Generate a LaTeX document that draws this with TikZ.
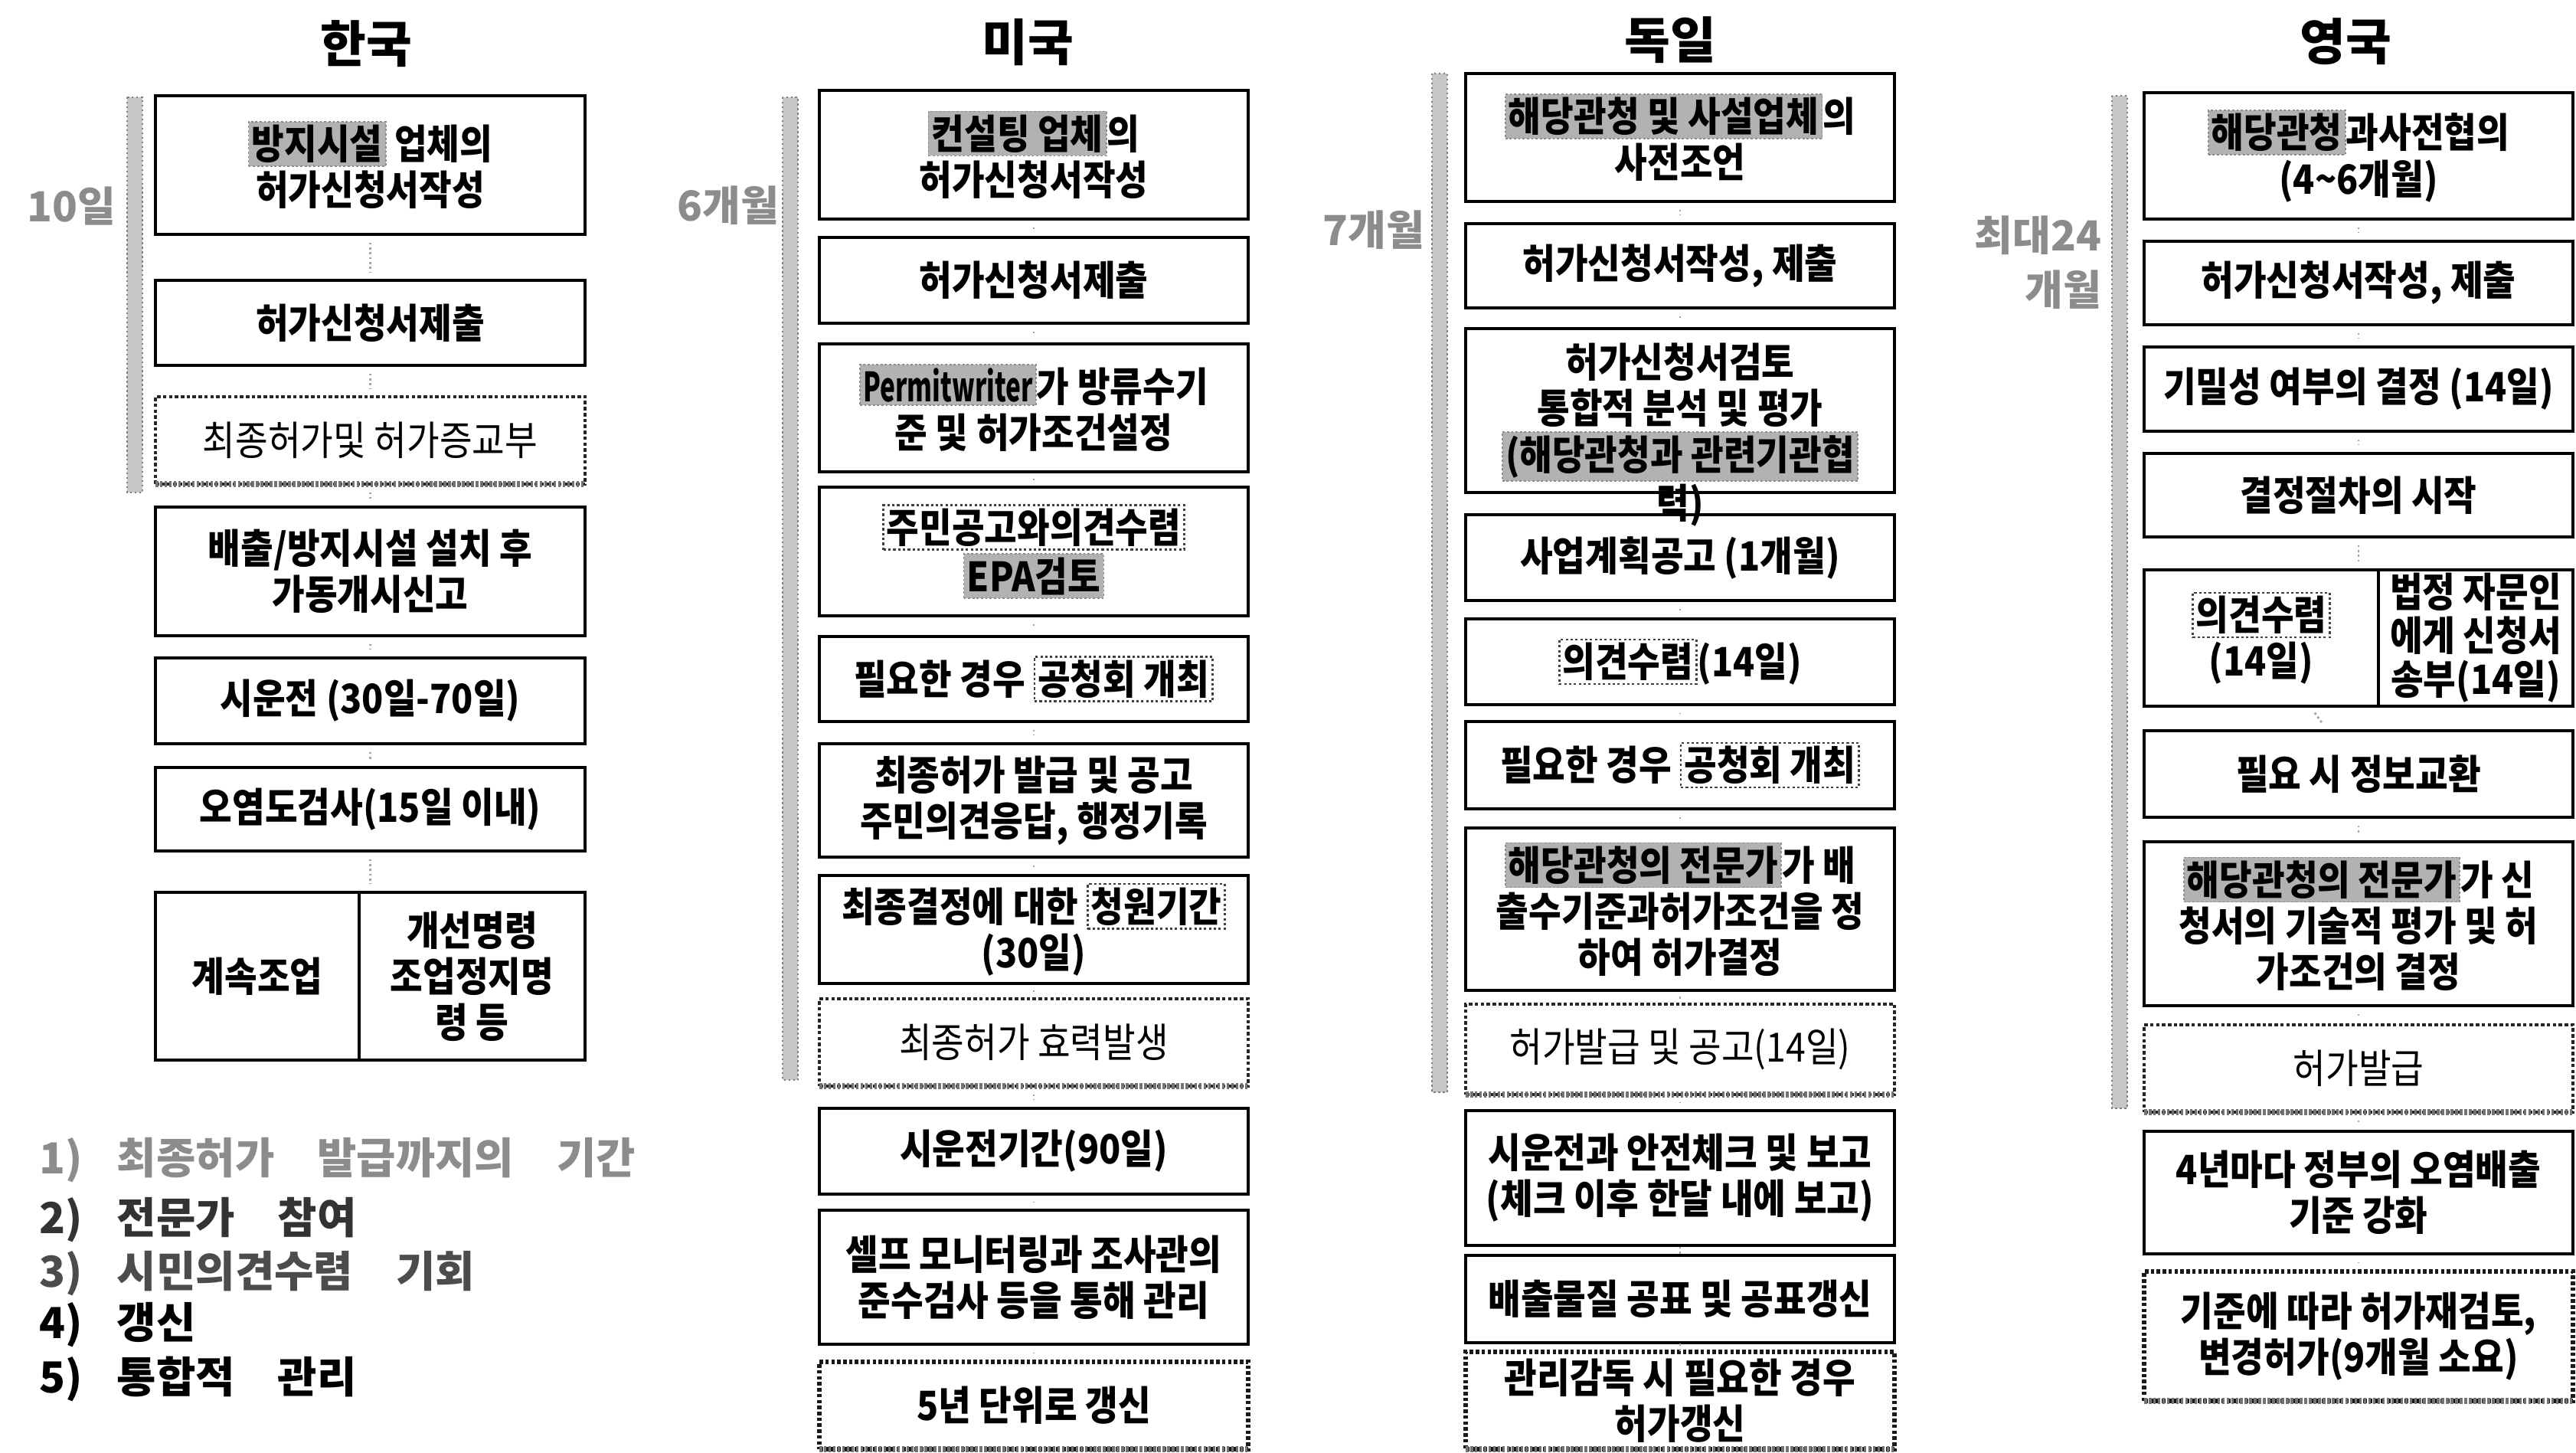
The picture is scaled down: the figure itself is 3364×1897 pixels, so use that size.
\documentclass[tikz,border=0pt]{standalone}
\usepackage{fontspec}
\usepackage{graphicx}
\setmainfont{Noto Sans CJK KR}
\newfontfamily\krnarrow{Noto Sans CJK KR}[FakeStretch=0.88]
\newcommand\bfnt{\krnarrow\bfseries\fontsize{15}{17.1}\selectfont}
\newcommand\bfnttight{\krnarrow\bfseries\fontsize{15}{16.2}\selectfont}
\newcommand\rfnt{\krnarrow\fontsize{15}{17.1}\selectfont}
\newcommand\tfnt{\bfseries\fontsize{18.5}{22}\selectfont}
\newcommand\pfnt{\bfseries\fontsize{15.4}{20.2}\selectfont}
\newcommand\lfnt{\bfseries\fontsize{15.9}{19}\selectfont}
\newcommand\hlexp[1]{\tikz[baseline=(hx.base)]\node[rectangle, inner sep=1.2pt, outer sep=0pt, minimum width=0pt, minimum height=0pt, fill=black!30, draw=black!45, line width=0.5pt, dash pattern=on 0.8pt off 0.8pt, text=black] (hx) {#1};}
\newcommand\hlcit[1]{\tikz[baseline=(hc.base)]\node[rectangle, inner sep=1.2pt, outer sep=0pt, minimum width=0pt, minimum height=0pt, fill=none, draw=black!75, line width=0.7pt, dash pattern=on 0.9pt off 0.9pt, text=black] (hc) {#1};}
\newcommand\bx[7]{\node[#6, minimum width={(#4-#2)*0.1mm}, minimum height={(#5-#3)*0.1mm}] (#1) at ({(#2+#4)/2},{(#3+#5)/2}) {#7};}
\tikzset{
  box/.style={draw=black, line width=1.3pt, rectangle, inner sep=0pt, outer sep=0pt, align=center, font=\bfnt, text=black},
  tightbox/.style={box, font=\bfnttight},
  finalbox/.style={box, draw=black!85, dash pattern=on 1.3pt off 0.9pt, font=\rfnt},
  renewbox/.style={box, draw=black!90, dash pattern=on 1.3pt off 0.9pt, line width=1.6pt},
  grain/.style={draw=black!55, line width=2.4pt, dash pattern=on 1pt off 0.7pt},
  txt/.style={inner sep=0pt, align=center, font=\bfnt, text=black},
  ttl/.style={font=\tfnt, text=black, inner sep=0pt},
  prd/.style={font=\pfnt, text=black!45, inner sep=0pt, align=right, anchor=east},
  lgd/.style={font=\lfnt, inner sep=0pt, anchor=west},
  brk/.style={fill=black!22, draw=black!50, line width=0.7pt, densely dotted},
  conn/.style={draw=black!35, line width=0.8pt, densely dotted, shorten >=3pt, shorten <=3pt},
}
\begin{document}
\begin{tikzpicture}[x=0.1mm, y=-0.1mm]
\fill[white] (0,0) rectangle (3364,1897);
\useasboundingbox (0,0) rectangle (3364,1897);

% titles
\node[ttl] (tKR) at (478,57) {한국};
\node[ttl] (tUS) at (1342,55) {미국};
\node[ttl] (tDE) at (2181,52) {독일};
\node[ttl] (tUK) at (3063,54) {영국};

% period brackets
\draw[brk] (166,127) rectangle (186,643);
\draw[brk] (1022,127) rectangle (1042,1410);
\draw[brk] (1870,96) rectangle (1890,1426);
\draw[brk] (2758,125) rectangle (2778,1447);
\node[prd] (pKR) at (152,269) {10일};
\node[prd] (pUS) at (1018,268) {6개월};
\node[prd] (pDE) at (1861,300) {7개월};
\node[prd] (pUK) at (2745,343) {최대24\\개월};

% Korea
\bx{k1}{203}{125}{764}{306}{box}{\hlexp{방지시설} 업체의\\허가신청서작성}
\bx{k2}{203}{366}{764}{477}{box}{허가신청서제출}
\bx{k3}{203}{518}{764}{632}{finalbox}{최종허가및 허가증교부}
\bx{k4}{203}{662}{764}{830}{box}{배출/방지시설 설치 후\\가동개시신고}
\bx{k5}{203}{859}{764}{971}{box}{시운전 (30일-70일)}
\bx{k6}{203}{1002}{764}{1111}{box}{오염도검사(15일 이내)}
\bx{k7a}{203}{1165}{469}{1384}{box}{계속조업}
\bx{k7b}{469}{1165}{764}{1384}{box}{개선명령\\조업정지명\\령 등}

% USA
\bx{u1}{1070}{118}{1630}{286}{box}{\hlexp{컨설팅 업체}의\\허가신청서작성}
\bx{u2}{1070}{310}{1630}{422}{box}{허가신청서제출}
\bx{u3}{1070}{449}{1630}{616}{box}{\hlexp{\scalebox{0.72}[1]{Permitwriter}}가 방류수기\\준 및 허가조건설정}
\bx{u4}{1070}{636}{1630}{804}{box}{\hlcit{주민공고와의견수렴}\\\hlexp{EPA검토}}
\bx{u5}{1070}{831}{1630}{942}{box}{필요한 경우 \hlcit{공청회 개최}}
\bx{u6}{1070}{971}{1630}{1119}{box}{최종허가 발급 및 공고\\주민의견응답, 행정기록}
\bx{u7}{1070}{1143}{1630}{1284}{box}{최종결정에 대한 \hlcit{청원기간}\\(30일)}
\bx{u8}{1070}{1304}{1630}{1418}{finalbox}{최종허가 효력발생}
\bx{u9}{1070}{1447}{1630}{1559}{box}{시운전기간(90일)}
\bx{u10}{1070}{1580}{1630}{1755}{box}{셀프 모니터링과 조사관의\\준수검사 등을 통해 관리}
\bx{u11}{1070}{1778}{1630}{1892}{renewbox}{5년 단위로 갱신}

% Germany
\bx{d1}{1914}{96}{2474}{263}{box}{\hlexp{해당관청 및 사설업체}의\\사전조언}
\bx{d2}{1914}{292}{2474}{402}{box}{허가신청서작성, 제출}
\bx{d3}{1914}{429}{2474}{643}{box}{}
\node[txt] (d3t) at (2194,568) {허가신청서검토\\통합적 분석 및 평가\\\hlexp{(해당관청과 관련기관협}\\력)};
\bx{d4}{1914}{672}{2474}{784}{box}{사업계획공고 (1개월)}
\bx{d5}{1914}{808}{2474}{920}{box}{\hlcit{의견수렴}(14일)}
\bx{d6}{1914}{942}{2474}{1056}{box}{필요한 경우 \hlcit{공청회 개최}}
\bx{d7}{1914}{1081}{2474}{1293}{box}{\hlexp{해당관청의 전문가}가 배\\출수기준과허가조건을 정\\하여 허가결정}
\bx{d8}{1914}{1311}{2474}{1429}{finalbox}{허가발급 및 공고(14일)}
\bx{d9}{1914}{1450}{2474}{1626}{box}{시운전과 안전체크 및 보고\\(체크 이후 한달 내에 보고)}
\bx{d10}{1914}{1639}{2474}{1753}{box}{배출물질 공표 및 공표갱신}
\bx{d11}{1914}{1765}{2474}{1892}{renewbox}{관리감독 시 필요한 경우\\허가갱신}

% UK
\bx{g1}{2800}{121}{3360}{286}{box}{\hlexp{해당관청}과사전협의\\(4\textasciitilde6개월)}
\bx{g2}{2800}{315}{3360}{424}{box}{허가신청서작성, 제출}
\bx{g3}{2800}{453}{3360}{563}{box}{기밀성 여부의 결정 (14일)}
\bx{g4}{2800}{592}{3360}{701}{box}{결정절차의 시작}
\bx{g5a}{2800}{744}{3106}{922}{box}{\hlcit{의견수렴}\\(14일)}
\bx{g5b}{3106}{744}{3360}{922}{tightbox}{법정 자문인\\에게 신청서\\송부(14일)}
\bx{g6}{2800}{954}{3360}{1067}{box}{필요 시 정보교환}
\bx{g7}{2800}{1099}{3360}{1313}{box}{\hlexp{해당관청의 전문가}가 신\\청서의 기술적 평가 및 허\\가조건의 결정}
\bx{g8}{2800}{1338}{3360}{1452}{finalbox}{허가발급}
\bx{g9}{2800}{1477}{3360}{1637}{box}{4년마다 정부의 오염배출\\기준 강화}
\bx{g10}{2800}{1660}{3360}{1829}{renewbox}{기준에 따라 허가재검토,\\변경허가(9개월 소요)}

% grainy bottom edges of dotted boxes
\foreach \n in {k3,u8,u11,d8,d11,g8,g10}
  \draw[grain] (\n.south west) -- (\n.south east);

% connectors
\foreach \a/\b in {k1/k2,k2/k3,k3/k4,k4/k5,k5/k6,
  u1/u2,u2/u3,u3/u4,u4/u5,u5/u6,u6/u7,u7/u8,u8/u9,u9/u10,u10/u11,
  d1/d2,d2/d3,d4/d5,d5/d6,d6/d7,d7/d8,d8/d9,d9/d10,d10/d11,
  g1/g2,g2/g3,g3/g4,g5a/g6,g6/g7,g7/g8,g8/g9,g9/g10}
  \draw[conn] (\a) -- (\b);
\draw[conn] (k6.south) -- (k6.south |- k7a.north);
\draw[conn] (g4.south) -- (g4.south |- g5a.north);

% legend
\node[lgd, text=black!45] (l1) at (51,1515) {1)\hspace{0.8em}최종허가\hspace{1em}발급까지의\hspace{1em}기간};
\node[lgd, text=black!80] (l2) at (51,1593) {2)\hspace{0.8em}전문가\hspace{1em}참여};
\node[lgd, text=black!70] (l3) at (51,1663) {3)\hspace{0.8em}시민의견수렴\hspace{1em}기회};
\node[lgd] (l4) at (51,1730) {4)\hspace{0.8em}갱신};
\node[lgd] (l5) at (51,1800) {5)\hspace{0.8em}통합적\hspace{1em}관리};
\end{tikzpicture}
\end{document}
